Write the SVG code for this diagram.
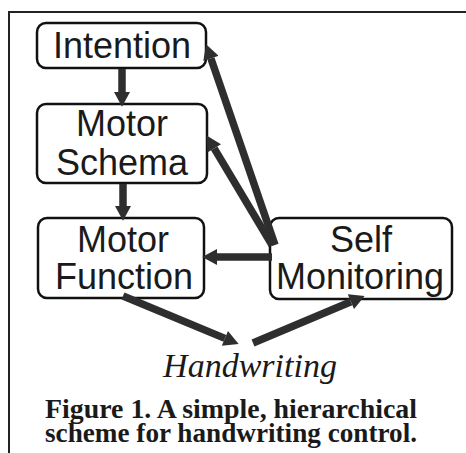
<svg xmlns="http://www.w3.org/2000/svg" width="466" height="453" viewBox="0 0 466 453">
<defs>
<style>
.box{fill:#fff;stroke:#111;stroke-width:2.5}
.lbl{font-family:"Liberation Sans",Arial,sans-serif;font-size:36px;fill:#1a1a1a;text-anchor:middle}
.arr{stroke:#2e2e2e;stroke-width:7.5;fill:none;stroke-linecap:butt}
.cap{font-family:"Liberation Serif","Times New Roman",serif;font-weight:bold;font-size:27px;fill:#1a1a1a}
</style>
<marker id="ah" markerUnits="userSpaceOnUse" markerWidth="16" markerHeight="16" refX="0" refY="7" orient="auto" viewBox="0 0 13 14">
<path d="M0,0 L13,7 L0,14 Z" fill="#2e2e2e"/>
</marker>
</defs>
<rect width="466" height="453" fill="#fff"/>
<g id="frame" stroke="#222" stroke-width="2" fill="none">
<path d="M9,453 V12 H466"/>
</g>
<g id="intention">
<rect class="box" x="37" y="23" width="169" height="45" rx="9"/>
<text class="lbl" x="122" y="58">Intention</text>
</g>
<g id="motor-schema">
<rect class="box" x="37" y="104" width="170" height="79" rx="9"/>
<text class="lbl" x="122" y="136">Motor</text>
<text class="lbl" x="122" y="175">Schema</text>
</g>
<g id="motor-function">
<rect class="box" x="38" y="218" width="166" height="80" rx="9"/>
<text class="lbl" x="123" y="252">Motor</text>
<text class="lbl" x="124" y="289">Function</text>
</g>
<g id="self-monitoring">
<rect class="box" x="270" y="218" width="182" height="81" rx="9"/>
<text class="lbl" x="361" y="252">Self</text>
<text class="lbl" x="360" y="289">Monitoring</text>
</g>
<g id="handwriting">
<text x="250" y="377" font-family="'Liberation Serif',serif" font-style="italic" font-size="34" text-anchor="middle" fill="#1a1a1a">Handwriting</text>
</g>
<g id="connectors" marker-end="url(#ah)">
<path class="arr" d="M122,69 L122,92"/>
<path class="arr" d="M123,184 L123,206"/>
<path class="arr" d="M275,245 L210.9,58.4"/>
<path class="arr" d="M272,245 L214.2,148.3"/>
<path class="arr" d="M272,257 L217,257"/>
<path class="arr" d="M123,296 L224.9,338.4"/>
<path class="arr" d="M253,343 L350.9,301.7"/>
</g>
<g id="caption">
<text class="cap" x="45" y="418" textLength="372" lengthAdjust="spacingAndGlyphs">Figure 1. A simple, hierarchical</text>
<text class="cap" x="45" y="442" textLength="372" lengthAdjust="spacingAndGlyphs">scheme for handwriting control.</text>
</g>
</svg>
